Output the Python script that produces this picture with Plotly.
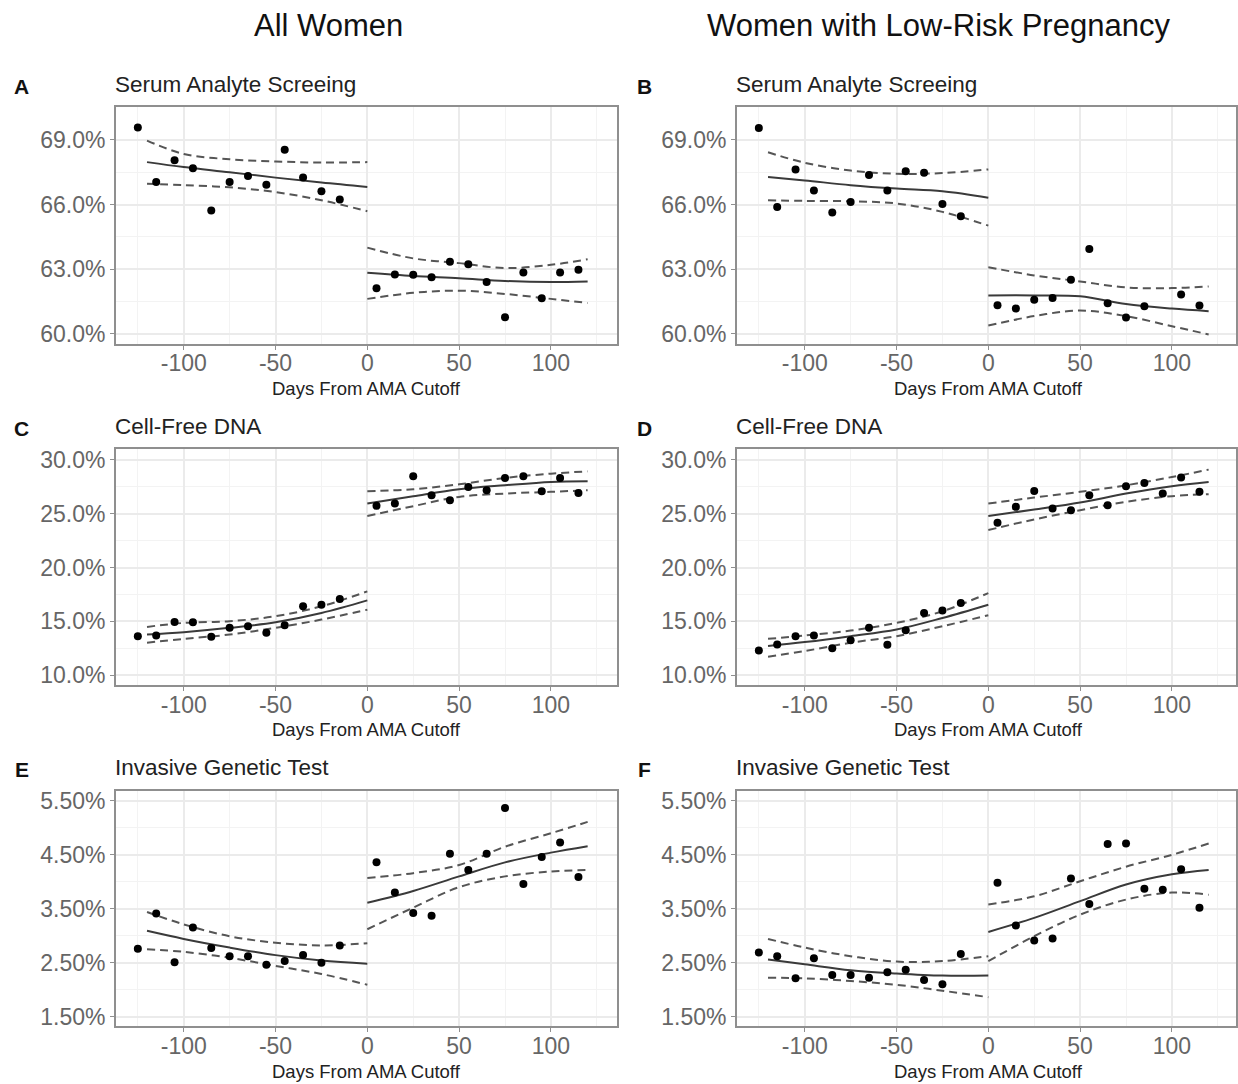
import plotly.graph_objects as go

# ---------------- data ----------------
pts_pre_x = [-125, -115, -105, -95, -85, -75, -65, -55, -45, -35, -25, -15]
pts_post_x = [5, 15, 25, 35, 45, 55, 65, 75, 85, 95, 105, 115]
fit_pre_x = [-120, -100, -75, -50, -25, 0]
fit_post_x = [0, 25, 50, 75, 100, 120]

# Panel A: All women, serum analyte screening (%)
a_pre = [69.58, 67.05, 68.06, 67.68, 65.72, 67.05, 67.32, 66.92, 68.54, 67.26, 66.62, 66.23]
a_post = [62.11, 62.75, 62.74, 62.62, 63.34, 63.23, 62.40, 60.77, 62.85, 61.65, 62.85, 62.97]
a_fit_pre = [67.97, 67.74, 67.50, 67.25, 67.02, 66.82]
a_up_pre = [68.97, 68.35, 68.10, 68.00, 67.95, 67.97]
a_lo_pre = [66.97, 66.90, 66.80, 66.58, 66.20, 65.69]
a_fit_post = [62.83, 62.68, 62.58, 62.45, 62.40, 62.43]
a_up_post = [64.00, 63.50, 63.28, 63.05, 63.20, 63.46]
a_lo_post = [61.62, 61.90, 62.00, 61.85, 61.62, 61.43]

# Panel B: Low-risk, serum analyte screening (%)
b_pre = [69.55, 65.89, 67.63, 66.65, 65.63, 66.12, 67.37, 66.65, 67.55, 67.48, 66.02, 65.46]
b_post = [61.32, 61.17, 61.58, 61.66, 62.51, 63.94, 61.42, 60.75, 61.28, None, 61.82, 61.31]
b_fit_pre = [67.28, 67.12, 66.90, 66.74, 66.62, 66.32]
b_up_pre = [68.43, 67.94, 67.58, 67.43, 67.46, 67.63]
b_lo_pre = [66.20, 66.17, 66.15, 66.05, 65.66, 65.02]
b_fit_post = [61.78, 61.78, 61.74, 61.38, 61.17, 61.05]
b_up_post = [63.09, 62.71, 62.43, 62.15, 62.12, 62.20]
b_lo_post = [60.38, 60.82, 61.08, 60.82, 60.35, 59.97]

# Panel C: All women, cell-free DNA (%)
c_pre = [13.63, 13.69, 14.95, 14.92, 13.57, 14.40, 14.55, 13.94, 14.65, 16.40, 16.55, 17.08]
c_post = [25.72, 25.94, 28.46, 26.71, 26.25, 27.48, 27.17, 28.31, 28.46, 27.08, 28.31, 26.92]
c_fit_pre = [13.78, 14.00, 14.40, 14.92, 15.78, 16.95]
c_up_pre = [14.49, 14.86, 15.02, 15.48, 16.40, 17.78]
c_lo_pre = [13.02, 13.38, 13.78, 14.40, 15.17, 16.09]
c_fit_post = [25.94, 26.62, 27.26, 27.63, 27.94, 28.00]
c_up_post = [27.08, 27.26, 27.72, 28.31, 28.71, 28.92]
c_lo_post = [24.77, 25.69, 26.55, 26.86, 27.02, 27.17]

# Panel D: Low-risk, cell-free DNA (%)
d_pre = [12.31, 12.86, 13.63, 13.69, 12.52, 13.26, 14.40, 12.83, 14.18, 15.78, 16.00, 16.71]
d_post = [24.15, 25.63, 27.11, 25.48, 25.32, 26.71, 25.78, 27.54, 27.85, 26.86, 28.34, 27.02]
d_fit_pre = [12.71, 13.08, 13.63, 14.25, 15.32, 16.55]
d_up_pre = [13.38, 13.69, 14.15, 14.86, 15.94, 17.63]
d_lo_pre = [11.72, 12.25, 13.02, 13.63, 14.55, 15.57]
d_fit_post = [24.77, 25.38, 26.03, 26.86, 27.54, 27.94]
d_up_post = [25.94, 26.49, 27.02, 27.63, 28.40, 29.08]
d_lo_post = [23.48, 24.46, 25.32, 26.09, 26.62, 26.80]

# Panel E: All women, invasive genetic test (%)
e_pre = [2.76, 3.41, 2.51, 3.15, 2.77, 2.62, 2.62, 2.46, 2.53, 2.64, 2.50, 2.82]
e_post = [4.36, 3.80, 3.42, 3.37, 4.52, 4.22, 4.52, 5.37, 3.96, 4.46, 4.73, 4.09]
e_fit_pre = [3.09, 2.94, 2.78, 2.64, 2.54, 2.48]
e_up_pre = [3.44, 3.21, 2.99, 2.87, 2.82, 2.86]
e_lo_pre = [2.75, 2.70, 2.59, 2.44, 2.29, 2.09]
e_fit_post = [3.61, 3.83, 4.10, 4.36, 4.54, 4.66]
e_up_post = [4.07, 4.16, 4.31, 4.65, 4.90, 5.11]
e_lo_post = [3.12, 3.52, 3.90, 4.10, 4.19, 4.22]

# Panel F: Low-risk, invasive genetic test (%)
f_pre = [2.69, 2.62, 2.21, 2.58, 2.27, 2.27, 2.22, 2.32, 2.37, 2.18, 2.10, 2.66]
f_post = [3.98, 3.19, 2.91, 2.95, 4.06, 3.59, 4.70, 4.71, 3.87, 3.85, 4.23, 3.52]
f_fit_pre = [2.56, 2.47, 2.36, 2.30, 2.26, 2.26]
f_up_pre = [2.94, 2.78, 2.62, 2.52, 2.53, 2.62]
f_lo_pre = [2.22, 2.21, 2.16, 2.09, 1.98, 1.86]
f_fit_post = [3.07, 3.33, 3.64, 3.95, 4.14, 4.22]
f_up_post = [3.58, 3.73, 4.01, 4.28, 4.50, 4.71]
f_lo_post = [2.53, 2.99, 3.39, 3.67, 3.80, 3.76]

column_titles = ["All Women", "Women with Low-Risk Pregnancy"]
panel_letters = ["A", "B", "C", "D", "E", "F"]
panel_titles = ["Serum Analyte Screeing", "Serum Analyte Screeing",
                "Cell-Free DNA", "Cell-Free DNA",
                "Invasive Genetic Test", "Invasive Genetic Test"]
x_title = "Days From AMA Cutoff"
x_tick_vals = [-100, -50, 0, 50, 100]
x_tick_text = ["-100", "-50", "0", "50", "100"]
x_minor_vals = [-125, -75, -25, 25, 75, 125]

panels = [
    (a_pre, a_post, a_fit_pre, a_up_pre, a_lo_pre, a_fit_post, a_up_post, a_lo_post),
    (b_pre, b_post, b_fit_pre, b_up_pre, b_lo_pre, b_fit_post, b_up_post, b_lo_post),
    (c_pre, c_post, c_fit_pre, c_up_pre, c_lo_pre, c_fit_post, c_up_post, c_lo_post),
    (d_pre, d_post, d_fit_pre, d_up_pre, d_lo_pre, d_fit_post, d_up_post, d_lo_post),
    (e_pre, e_post, e_fit_pre, e_up_pre, e_lo_pre, e_fit_post, e_up_post, e_lo_post),
    (f_pre, f_post, f_fit_pre, f_up_pre, f_lo_pre, f_fit_post, f_up_post, f_lo_post),
]

# ---------------- layout geometry ----------------
W, H = 1238, 1084
FONT = "Liberation Sans, Arial, Helvetica, sans-serif"
col_px = [(116, 618), (738, 1238)]
col_xrange = [(-137, 136), (-137, 134.9)]
row_px = [(105, 343), (448, 686), (792, 1029)]
row_yrange = [(59.52, 70.51), (9.08, 31.04), (1.32, 5.69)]
row_ytick = [(60, 3, 1.5, ".1f"), (10, 5, 2.5, ".1f"), (1.5, 1, 0.5, ".2f")]

fig = go.Figure()
BORDER = "#8f8f8f"
GRID = "#ebebeb"
MINOR = "#f3f3f3"
TICKC = "#666666"

for i, p in enumerate(panels):
    r, c = divmod(i, 2)
    n = i + 1
    xa = "x" if n == 1 else f"x{n}"
    ya = "y" if n == 1 else f"y{n}"
    pre, post, fpre, upre, lpre, fpost, upost, lpost = p
    for xs, ys in [(fit_pre_x, upre), (fit_pre_x, lpre), (fit_post_x, upost), (fit_post_x, lpost)]:
        fig.add_trace(go.Scatter(x=xs, y=ys, mode="lines", xaxis=xa, yaxis=ya,
                                 line=dict(color="#555555", width=2, dash="8px,5px", shape="spline"),
                                 showlegend=False, hoverinfo="skip"))
    for xs, ys in [(fit_pre_x, fpre), (fit_post_x, fpost)]:
        fig.add_trace(go.Scatter(x=xs, y=ys, mode="lines", xaxis=xa, yaxis=ya,
                                 line=dict(color="#3a3a3a", width=2, shape="spline"),
                                 showlegend=False, hoverinfo="skip"))
    fig.add_trace(go.Scatter(x=pts_pre_x + pts_post_x, y=pre + post, mode="markers",
                             xaxis=xa, yaxis=ya, marker=dict(color="black", size=8),
                             showlegend=False))

    x0, x1 = col_px[c]
    y0, y1 = row_px[r]
    t0, dt, mdt, fmt = row_ytick[r]
    xkey = "xaxis" if n == 1 else f"xaxis{n}"
    ykey = "yaxis" if n == 1 else f"yaxis{n}"
    fig.layout[xkey] = dict(
        domain=[x0 / W, min(x1 / W, 1.0)], range=list(col_xrange[c]), anchor=ya,
        tickmode="array", tickvals=x_tick_vals, ticktext=x_tick_text,
        ticks="outside", ticklen=4, tickwidth=1.2, tickcolor=BORDER,
        ticklabelstandoff=-6,
        showline=True, linecolor=BORDER, linewidth=1.5, mirror=True,
        showgrid=True, gridcolor=GRID, gridwidth=1.5, zeroline=False,
        minor=dict(tickmode="array", tickvals=x_minor_vals, showgrid=True,
                   gridcolor=MINOR, gridwidth=1, ticks=""),
        tickfont=dict(family=FONT, size=23, color=TICKC))
    fig.layout[ykey] = dict(
        domain=[1 - y1 / H, 1 - y0 / H], range=list(row_yrange[r]), anchor=xa,
        tick0=t0, dtick=dt, tickformat=fmt, ticksuffix="%",
        ticks="outside", ticklen=4, tickwidth=1.2, tickcolor=BORDER,
        showline=True, linecolor=BORDER, linewidth=1.5, mirror=True,
        showgrid=True, gridcolor=GRID, gridwidth=1.5, zeroline=False,
        minor=dict(dtick=mdt, showgrid=True, gridcolor=MINOR, gridwidth=1, ticks=""),
        tickfont=dict(family=FONT, size=23, color=TICKC))

annotations = []
for c, (cx, title) in enumerate(zip([329, 940], column_titles)):
    annotations.append(dict(text=title, x=cx / W, y=1 - 23 / H, xref="paper", yref="paper",
                            xanchor="center", yanchor="middle", showarrow=False,
                            font=dict(family=FONT, size=31, color="#111111")))
title_y = [82, 426, 769]
letter_x = [22, 646]
for i in range(6):
    r, c = divmod(i, 2)
    annotations.append(dict(text="<b>" + panel_letters[i] + "</b>", x=letter_x[c] / W,
                            y=1 - (title_y[r] + 2) / H, xref="paper", yref="paper",
                            xanchor="center", yanchor="middle", showarrow=False,
                            font=dict(family=FONT, size=21, color="#111111")))
    annotations.append(dict(text=panel_titles[i], x=(col_px[c][0] - 3) / W,
                            y=1 - title_y[r] / H, xref="paper", yref="paper",
                            xanchor="left", yanchor="middle", showarrow=False,
                            font=dict(family=FONT, size=22.5, color="#222222")))
    cx = 367 if c == 0 else 990
    annotations.append(dict(text=x_title, x=cx / W, y=1 - (row_px[r][1] + 45) / H,
                            xref="paper", yref="paper", xanchor="center", yanchor="middle",
                            showarrow=False, font=dict(family=FONT, size=18.5, color="#222222")))

fig.update_layout(width=W, height=H, margin=dict(l=0, r=0, t=0, b=0),
                  paper_bgcolor="white", plot_bgcolor="white",
                  annotations=annotations, showlegend=False)

fig.write_html("out.html", config={"displayModeBar": False})

# remove the browser's default page margin so the figure sits at the top-left corner
with open("out.html", "r", encoding="utf-8") as fh:
    html = fh.read()
html = html.replace("<head>", "<head><style>html,body{margin:0;padding:0;overflow:hidden}</style>", 1)
with open("out.html", "w", encoding="utf-8") as fh:
    fh.write(html)
